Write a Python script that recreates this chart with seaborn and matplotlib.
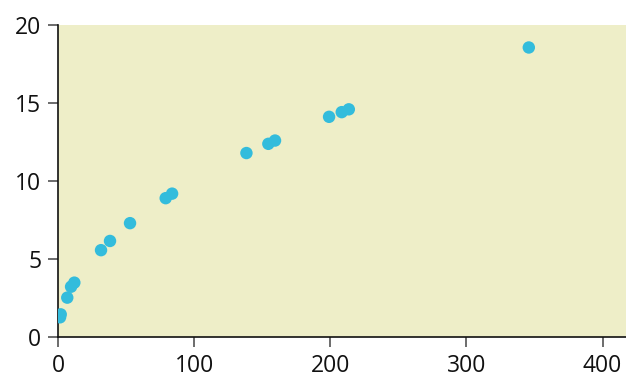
import matplotlib
matplotlib.use("Agg")
import matplotlib.pyplot as plt
import seaborn as sns
import pandas as pd

x_vals = [1.5, 2.0, 6.8, 9.6, 12.0, 31.6, 38.2, 52.9, 79.1, 83.8,
          138.4, 154.5, 159.4, 199.1, 208.4, 213.6, 345.8]
y_vals = [1.28, 1.47, 2.54, 3.24, 3.5, 5.58, 6.17, 7.31, 8.91, 9.2,
          11.8, 12.39, 12.6, 14.12, 14.42, 14.6, 18.56]
x_ticks = [0, 100, 200, 300, 400]
y_ticks = [0, 5, 10, 15, 20]

df = pd.DataFrame({"x": x_vals, "y": y_vals})

sns.set_theme(style="ticks")
plt.rcParams['font.family'] = ['Open Sans', 'DejaVu Sans']

fig = plt.figure(figsize=(6.26, 3.77), dpi=100)
ax = fig.add_axes([58/626, 1 - 337.3/377, 1 - 58/626, (337.3 - 25)/377])
ax.set_facecolor("#EEEEC8")

sns.scatterplot(data=df, x="x", y="y", ax=ax, color="#33BCDC", s=80,
                edgecolor="none", linewidth=0, zorder=3)

ax.set_xlim(0, (626 - 58) / 1.3615)
ax.set_ylim(0, 20)
ax.set_xticks(x_ticks)
ax.set_yticks(y_ticks)
ax.set_xlabel("")
ax.set_ylabel("")
for s in ["top", "right"]:
    ax.spines[s].set_visible(False)
for s in ["left", "bottom"]:
    ax.spines[s].set_color("#111111")
    ax.spines[s].set_linewidth(1.2)
ax.tick_params(axis="both", length=7, width=1.1, color="#444444",
               labelsize=16.5, labelcolor="#111111", pad=5)

fig.savefig("out.png", dpi=100)
